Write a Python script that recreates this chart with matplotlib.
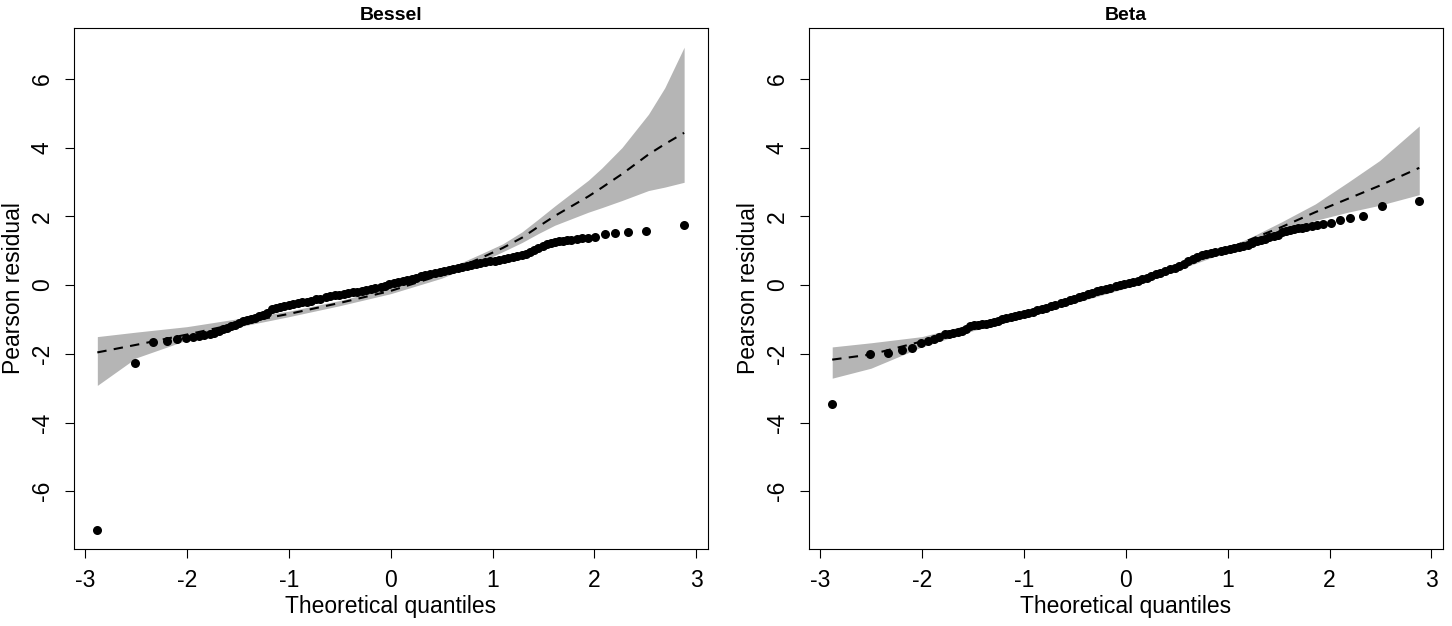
# QQ plots of Pearson residuals with simulated envelope, Bessel vs Beta models

import matplotlib.pyplot as plt

plt.rcParams['font.family'] = ['Liberation Sans', 'DejaVu Sans']
plt.rcParams['axes.unicode_minus'] = False

# ---- Bessel panel ----
bessel_x = [-2.88, -2.51, -2.33, -2.20, -2.10, -2.01, -1.94, -1.88, -1.83, -1.77,
            -1.73, -1.69, -1.65, -1.61, -1.57, -1.53, -1.49, -1.45, -1.41, -1.37,
            -1.33, -1.29, -1.25, -1.21, -1.17, -1.13, -1.09, -1.05, -1.00, -0.96,
            -0.91, -0.87, -0.82, -0.78, -0.73, -0.69, -0.64, -0.60, -0.55, -0.51,
            -0.46, -0.42, -0.37, -0.33, -0.28, -0.24, -0.19, -0.15, -0.10, -0.06,
            -0.02, 0.03, 0.07, 0.12, 0.16, 0.21, 0.25, 0.30, 0.34, 0.39,
            0.43, 0.48, 0.52, 0.57, 0.61, 0.66, 0.70, 0.75, 0.79, 0.84,
            0.88, 0.93, 0.97, 1.02, 1.06, 1.11, 1.15, 1.20, 1.24, 1.29,
            1.33, 1.37, 1.41, 1.45, 1.49, 1.53, 1.57, 1.61, 1.65, 1.69,
            1.73, 1.77, 1.83, 1.88, 1.94, 2.01, 2.10, 2.20, 2.33, 2.51, 2.88]
bessel_y = [-7.12, -2.27, -1.65, -1.63, -1.58, -1.53, -1.50, -1.48, -1.46, -1.43,
            -1.40, -1.34, -1.29, -1.24, -1.19, -1.15, -1.11, -1.06, -1.02, -0.98,
            -0.95, -0.91, -0.86, -0.80, -0.71, -0.66, -0.63, -0.61, -0.58, -0.56,
            -0.53, -0.50, -0.48, -0.45, -0.42, -0.40, -0.36, -0.33, -0.30, -0.28,
            -0.25, -0.23, -0.21, -0.19, -0.17, -0.15, -0.12, -0.09, -0.05, -0.02,
            0.03, 0.07, 0.10, 0.12, 0.15, 0.18, 0.21, 0.25, 0.28, 0.31,
            0.34, 0.37, 0.40, 0.43, 0.46, 0.50, 0.53, 0.56, 0.59, 0.61,
            0.63, 0.66, 0.69, 0.71, 0.74, 0.76, 0.79, 0.82, 0.85, 0.88,
            0.91, 0.95, 1.02, 1.09, 1.15, 1.20, 1.23, 1.25, 1.27, 1.28,
            1.30, 1.31, 1.34, 1.36, 1.37, 1.39, 1.48, 1.51, 1.53, 1.56, 1.76]
bessel_env_x = [-2.88, -2.5, -2.0, -1.5, -1.0, -0.5, 0.0, 0.5, 0.88, 1.1, 1.29, 1.45, 1.61,
                1.94, 2.07, 2.27, 2.53, 2.69, 2.88]
bessel_env_hi = [-1.50, -1.37, -1.21, -0.98, -0.76, -0.45, -0.08, 0.40, 0.90, 1.20, 1.55, 1.92, 2.30,
                 3.05, 3.40, 4.00, 4.97, 5.74, 6.92]
bessel_env_lo = [-2.92, -2.12, -1.60, -1.22, -0.92, -0.60, -0.25, 0.20, 0.67, 0.97, 1.24, 1.50, 1.74,
                 2.12, 2.25, 2.46, 2.75, 2.85, 2.99]
bessel_env_mid = [-1.96, -1.74, -1.44, -1.12, -0.84, -0.52, -0.17, 0.30, 0.78, 1.08, 1.38, 1.70, 2.01,
                  2.58, 2.83, 3.23, 3.80, 4.10, 4.43]

# ---- Beta panel ----
beta_x = bessel_x
beta_y = [-3.46, -2.01, -1.98, -1.88, -1.83, -1.69, -1.63, -1.58, -1.51, -1.42,
          -1.41, -1.40, -1.38, -1.34, -1.28, -1.20, -1.17, -1.15, -1.14, -1.12,
          -1.10, -1.07, -1.04, -1.00, -0.95, -0.92, -0.89, -0.86, -0.84, -0.81,
          -0.77, -0.74, -0.70, -0.66, -0.62, -0.58, -0.53, -0.49, -0.44, -0.40,
          -0.36, -0.32, -0.27, -0.23, -0.18, -0.14, -0.11, -0.08, -0.04, 0.00,
          0.03, 0.06, 0.09, 0.13, 0.17, 0.21, 0.26, 0.31, 0.36, 0.41,
          0.46, 0.51, 0.56, 0.62, 0.69, 0.76, 0.82, 0.86, 0.89, 0.93,
          0.95, 0.98, 1.01, 1.04, 1.07, 1.11, 1.15, 1.18, 1.22, 1.28,
          1.32, 1.35, 1.39, 1.43, 1.47, 1.53, 1.58, 1.61, 1.63, 1.65,
          1.67, 1.69, 1.71, 1.74, 1.77, 1.80, 1.90, 1.96, 2.02, 2.29, 2.44]
beta_env_x = [-2.88, -2.5, -2.0, -1.5, -1.0, -0.5, 0.0, 0.5, 1.0, 1.2, 1.53, 1.86, 2.18, 2.49, 2.88]
beta_env_hi = [-1.80, -1.68, -1.50, -1.12, -0.78, -0.37, 0.03, 0.56, 1.12, 1.35, 1.84, 2.36, 2.99, 3.62, 4.63]
beta_env_lo = [-2.71, -2.42, -1.80, -1.33, -0.96, -0.52, -0.09, 0.43, 0.97, 1.25, 1.55, 1.88, 2.12, 2.32, 2.63]
beta_env_mid = [-2.17, -2.02, -1.64, -1.22, -0.87, -0.45, -0.03, 0.50, 1.05, 1.30, 1.69, 2.12, 2.51, 2.89, 3.41]

fig = plt.figure(figsize=(14.52, 6.26), dpi=100)
ax1 = fig.add_axes([0.0509, 0.1230, 0.4364, 0.8323])
ax2 = fig.add_axes([0.5570, 0.1230, 0.4366, 0.8323])

panels = [
    (ax1, 'Bessel', bessel_x, bessel_y, bessel_env_x, bessel_env_lo, bessel_env_hi, bessel_env_mid),
    (ax2, 'Beta', beta_x, beta_y, beta_env_x, beta_env_lo, beta_env_hi, beta_env_mid),
]

for ax, title, qx, qy, ex, elo, ehi, emid in panels:
    ax.fill_between(ex, elo, ehi, color='#B5B5B5', linewidth=0)
    ax.plot(ex, emid, color='black', linewidth=1.5, dashes=(4.5, 3.5))
    ax.plot(qx, qy, 'o', color='black', markersize=6.5, markeredgewidth=0)

    ax.set_xlim(-3.11, 3.11)
    ax.set_ylim(-7.68, 7.48)
    ax.set_xticks([-3, -2, -1, 0, 1, 2, 3])
    ax.set_yticks([-6, -4, -2, 0, 2, 4, 6])
    ax.tick_params(direction='out', length=6.5, width=0.8, labelsize=16.5, pad=8)
    for lab in ax.get_yticklabels():
        lab.set_rotation(90)
        lab.set_va('center')
    for s in ax.spines.values():
        s.set_linewidth(0.8)

    ax.set_xlabel('Theoretical quantiles', fontsize=16.5, labelpad=2)
    ax.set_ylabel('Pearson residual', fontsize=16.5, labelpad=4)
    ax.set_title(title, fontsize=14, fontweight='bold', pad=6)

fig.savefig('out.png', dpi=100)
